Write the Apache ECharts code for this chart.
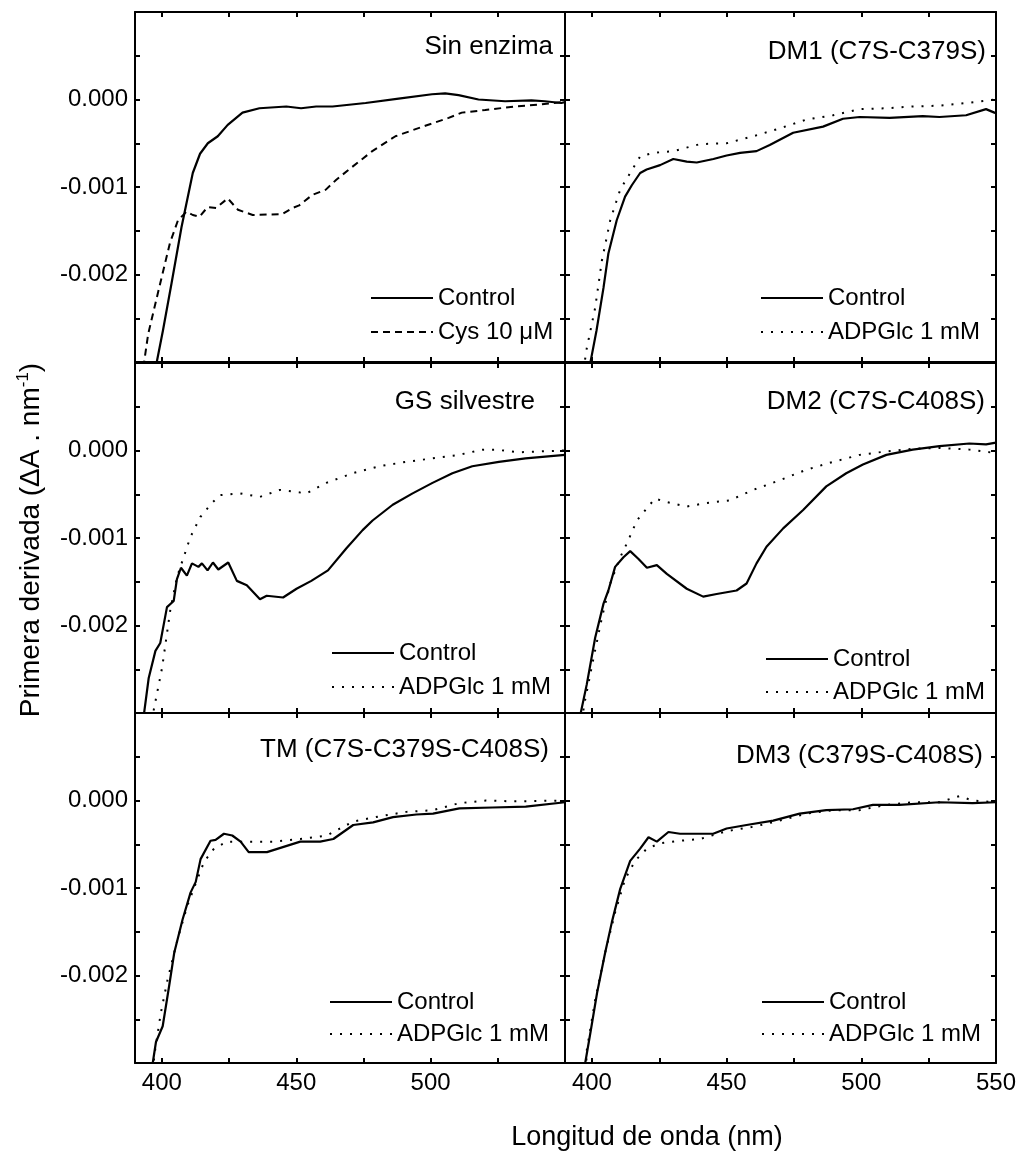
<!DOCTYPE html>
<html>
<head>
<meta charset="utf-8">
<script src="https://cdn.jsdelivr.net/npm/echarts@6/dist/echarts.min.js"></script>
<style>
html,body{margin:0;padding:0;background:#fff;}
#chart{width:1020px;height:1166px;}
</style>
</head>
<body>
<div id="chart"></div>
<script>
// ---- DATA: [wavelength (nm), first derivative ×10⁻³ (ΔA·nm⁻¹)] ----
const sinEnzimaControl = [[397.5,-3.2],[398.1,-3.0],[400.4,-2.64],[403.6,-2.10],[407.3,-1.46],[411.5,-0.84],[414.2,-0.62],[417.1,-0.50],[420.8,-0.42],[424.5,-0.29],[430,-0.15],[436.3,-0.10],[446.3,-0.08],[451.8,-0.10],[457.4,-0.08],[463.5,-0.08],[475.8,-0.04],[488.1,0.01],[500.5,0.06],[505.4,0.07],[510.4,0.05],[517.8,0.0],[527.7,-0.02],[537.5,-0.01],[542.5,-0.02],[548.6,-0.04],[550,-0.03]];
const sinEnzimaCys = [[392.8,-3.2],[393.4,-3.0],[394.9,-2.68],[399,-2.15],[403,-1.64],[406,-1.38],[409.2,-1.28],[411.5,-1.32],[414,-1.34],[417,-1.23],[420.2,-1.24],[424.5,-1.13],[428.3,-1.26],[433.8,-1.32],[444.8,-1.31],[448.6,-1.24],[451.1,-1.21],[456,-1.09],[461,-1.03],[464.8,-0.92],[469.6,-0.80],[478.3,-0.59],[486.9,-0.42],[498,-0.30],[506.7,-0.21],[511.6,-0.15],[520.3,-0.12],[531.4,-0.08],[540,-0.06],[548.6,-0.03],[550,-0.02]];

const dm1Control = [[399.0,-3.2],[399.4,-3.01],[401.7,-2.64],[404.3,-2.15],[406.1,-1.76],[409.2,-1.38],[412.3,-1.11],[414.8,-0.98],[417.9,-0.84],[420.3,-0.80],[425.3,-0.75],[430.2,-0.68],[435.2,-0.71],[438.9,-0.72],[445.1,-0.68],[450,-0.64],[455,-0.61],[461.1,-0.59],[466,-0.52],[474.7,-0.38],[485.8,-0.31],[493.2,-0.22],[499.4,-0.20],[510.5,-0.21],[522.8,-0.19],[529,-0.20],[538.9,-0.18],[546.3,-0.11],[549.4,-0.15],[550,-0.16]];
const dm1ADPGlc = [[396.9,-3.2],[397.3,-3.0],[398.1,-2.84],[401.2,-2.38],[403.7,-1.84],[406.8,-1.38],[410.5,-1.03],[414.2,-0.84],[417.9,-0.65],[422.8,-0.61],[430.2,-0.59],[440.1,-0.51],[450,-0.50],[459.9,-0.42],[469.7,-0.33],[479.6,-0.23],[489.5,-0.18],[499.4,-0.11],[509.3,-0.10],[519.1,-0.08],[529,-0.07],[538.9,-0.04],[550,0.0]];

const gsControl = [[393.0,-3.2],[393.3,-3.02],[395.1,-2.60],[397.6,-2.29],[399.4,-2.20],[401.9,-1.79],[404.4,-1.72],[405.6,-1.47],[407.1,-1.34],[409.3,-1.43],[411.2,-1.29],[413.6,-1.33],[414.9,-1.29],[417,-1.37],[419,-1.28],[421,-1.36],[424.7,-1.28],[427.9,-1.49],[431.6,-1.54],[436.5,-1.70],[439,-1.66],[445.1,-1.68],[450.1,-1.58],[455.6,-1.49],[461.8,-1.37],[468.6,-1.12],[474.7,-0.91],[478.4,-0.80],[485.9,-0.62],[493.3,-0.49],[500.7,-0.37],[508.1,-0.26],[515.5,-0.18],[525.4,-0.13],[535.3,-0.09],[550,-0.05]];
const gsADPGlc = [[396.7,-3.2],[397,-2.96],[400.1,-2.48],[403.1,-1.83],[405.6,-1.45],[408.1,-1.22],[410.6,-0.99],[414.3,-0.76],[418.6,-0.60],[421.7,-0.51],[429.1,-0.49],[436.5,-0.53],[443.9,-0.45],[453.8,-0.49],[461.2,-0.37],[471,-0.26],[480.9,-0.18],[490.8,-0.13],[500.7,-0.09],[510.6,-0.05],[519.2,0.01],[524.1,0.01],[532.8,-0.02],[550,0.0]];

const dm2Control = [[395.4,-3.2],[395.7,-3.02],[398.1,-2.67],[401.2,-2.14],[404.3,-1.75],[406.1,-1.60],[408.6,-1.33],[411.7,-1.22],[414.2,-1.15],[417.3,-1.24],[420.4,-1.34],[424.1,-1.31],[427.8,-1.41],[435.2,-1.58],[441.3,-1.67],[446.3,-1.64],[453.7,-1.60],[457.4,-1.52],[461.1,-1.29],[464.8,-1.10],[471,-0.89],[478.4,-0.68],[487,-0.41],[494.4,-0.26],[500.6,-0.16],[509.3,-0.05],[519.1,0.01],[529,0.05],[540.1,0.08],[546.3,0.07],[550,0.09]];
const dm2ADPGlc = [[396.5,-3.2],[396.9,-2.94],[400.6,-2.37],[403.7,-1.91],[406.8,-1.52],[410.5,-1.22],[413,-1.06],[416.7,-0.80],[420.4,-0.66],[423.4,-0.55],[427.8,-0.59],[435.2,-0.64],[442.6,-0.60],[451.2,-0.57],[459.9,-0.45],[469.7,-0.34],[479.6,-0.22],[489.5,-0.13],[499.4,-0.05],[509.3,-0.01],[519.1,0.02],[529,0.03],[540.1,0.01],[550,-0.03]];

const tmControl = [[396.4,-3.2],[396.6,-3.0],[397.8,-2.76],[400.3,-2.58],[402.7,-2.12],[404.6,-1.74],[407.7,-1.36],[410.7,-1.05],[412.6,-0.93],[414.4,-0.67],[418.1,-0.46],[420,-0.45],[423.1,-0.38],[426.2,-0.40],[429.3,-0.47],[432.3,-0.59],[439.1,-0.59],[445.3,-0.53],[451.5,-0.47],[458.9,-0.47],[463.8,-0.44],[471.2,-0.28],[478.6,-0.25],[486,-0.19],[494.7,-0.16],[500.9,-0.15],[510.7,-0.09],[523.1,-0.08],[535.4,-0.07],[550,-0.02]];
const tmADPGlc = [[396.8,-3.2],[397.1,-2.93],[399.6,-2.43],[402.1,-2.05],[405.8,-1.59],[409.5,-1.20],[413.2,-0.90],[415.7,-0.70],[419.4,-0.55],[424.3,-0.47],[431.7,-0.47],[441.6,-0.47],[451.5,-0.44],[461.4,-0.40],[471.2,-0.24],[481.1,-0.18],[491,-0.13],[500.9,-0.11],[510.7,-0.03],[520.6,0.0],[530.5,-0.01],[550,0.0]];

const dm3Control = [[397.3,-3.2],[397.5,-3.0],[399.4,-2.66],[401.9,-2.20],[404.9,-1.74],[407.4,-1.39],[410.5,-1.01],[414.2,-0.69],[417.9,-0.55],[421,-0.42],[424.1,-0.47],[428.4,-0.36],[432.7,-0.38],[438.9,-0.38],[445,-0.38],[450,-0.32],[457.4,-0.28],[467.3,-0.23],[477.1,-0.15],[487,-0.11],[496.9,-0.10],[504.3,-0.05],[514.2,-0.05],[529,-0.02],[541.3,-0.03],[550,-0.02]];
const dm3ADPGlc = [[397.6,-3.2],[398.1,-2.85],[401.2,-2.28],[404.9,-1.74],[408.6,-1.28],[412.3,-0.90],[416,-0.69],[420.4,-0.55],[425.3,-0.49],[432.7,-0.46],[440.1,-0.44],[450,-0.35],[459.9,-0.30],[469.7,-0.23],[479.6,-0.15],[489.5,-0.11],[499.4,-0.11],[509.3,-0.05],[519.1,-0.02],[529,-0.02],[536.4,0.05],[541.3,0.0],[550,-0.02]];

// tick labels
const yTickValues = [0, -1, -2];
const yTickLabels = ['0.000', '-0.001', '-0.002'];
const xTickLabelsLeft = [400, 450, 500];
const xTickLabelsRight = [400, 450, 500, 550];

// panel titles and legend names
const panelTitles = ['Sin enzima', 'DM1 (C7S-C379S)', 'GS silvestre', 'DM2 (C7S-C408S)', 'TM (C7S-C379S-C408S)', 'DM3 (C379S-C408S)'];
const controlName = 'Control';
const treatmentNames = ['Cys 10 μM', 'ADPGlc 1 mM', 'ADPGlc 1 mM', 'ADPGlc 1 mM', 'ADPGlc 1 mM', 'ADPGlc 1 mM'];
const controlSeries = [sinEnzimaControl, dm1Control, gsControl, dm2Control, tmControl, dm3Control];
const treatmentSeries = [sinEnzimaCys, dm1ADPGlc, gsADPGlc, dm2ADPGlc, tmADPGlc, dm3ADPGlc];

// ---- LAYOUT / STYLE ----
const FONT = 'Liberation Sans, Arial, Helvetica, sans-serif';
const gridBoxes = [
  {left:135, top:12, width:430, height:350},
  {left:565, top:12, width:431, height:350},
  {left:135, top:363, width:430, height:350},
  {left:565, top:363, width:431, height:350},
  {left:135, top:713, width:430, height:350},
  {left:565, top:713, width:431, height:350}
];
const titlePos = [[553,47],[986,52],[535,402],[985,402],[549,750],[983,756]];
const legendPos = [[370,298,34],[760,298,34],[331,653,34],[765,659,33],[329,1002,32],[761,1002,32]];
const treatmentDash = [[7,5],[2,8],[2,8],[2,8],[2,8],[2,8]];

const axisLineStyle = {color:'#000', width:2};
const tickStyle = {show:true, inside:true, length:5, lineStyle:{color:'#000', width:2}};

const grids = [], xAxes = [], yAxes = [], series = [], legends = [], graphics = [];

gridBoxes.forEach((g, i) => {
  grids.push(Object.assign({containLabel:false, outerBoundsMode:'none', show:false}, g));
  const isBottom = i >= 4;
  const isLeft = i % 2 === 0;
  const xLabels = isLeft ? xTickLabelsLeft : xTickLabelsRight;
  const xBase = {
    type:'value', gridIndex:i, min:390, max:550, minInterval:25, maxInterval:25,
    axisLine:{show:true, onZero:false, lineStyle:axisLineStyle},
    axisTick:tickStyle, splitLine:{show:false}, minorTick:{show:false}
  };
  xAxes.push(Object.assign({}, xBase, {
    position:'bottom',
    axisLabel:{show:isBottom, margin:8, color:'#000', fontSize:24, fontFamily:FONT,
      formatter: v => xLabels.indexOf(Math.round(v)) >= 0 ? String(Math.round(v)) : ''}
  }));
  xAxes.push(Object.assign({}, xBase, {position:'top', axisLabel:{show:false}}));
  const yBase = {
    type:'value', gridIndex:i, min:-3, max:1, interval:0.5,
    axisLine:{show:true, onZero:false, lineStyle:axisLineStyle},
    axisTick:tickStyle, splitLine:{show:false}
  };
  yAxes.push(Object.assign({}, yBase, {
    position:'left',
    axisLabel:{show:isLeft, margin:7, color:'#000', fontSize:24, fontFamily:FONT,
      formatter: v => { const k = yTickValues.indexOf(Math.round(v * 2) / 2); return k >= 0 ? yTickLabels[k] : ''; }}
  }));
  yAxes.push(Object.assign({}, yBase, {position:'right', axisLabel:{show:false}}));

  series.push({
    type:'line', name:controlName, xAxisIndex:2*i, yAxisIndex:2*i, data:controlSeries[i],
    symbol:'none', clip:true, animation:false, z:3,
    lineStyle:{color:'#000', width:2.2, type:'solid'}
  });
  series.push({
    type:'line', name:treatmentNames[i], xAxisIndex:2*i, yAxisIndex:2*i, data:treatmentSeries[i],
    symbol:'none', clip:true, animation:false, z:2,
    lineStyle:{color:'#000', width:2, type:treatmentDash[i]}
  });

  const lp = legendPos[i];
  legends.push({
    orient:'vertical', left:lp[0], top:lp[1] - 12, padding:0,
    itemWidth:62, itemHeight:14, itemGap:lp[2] - 24,
    selectedMode:false,
    data:[controlName, treatmentNames[i]],
    textStyle:{color:'#000', fontSize:24, fontFamily:FONT, lineHeight:24},
    lineStyle:{width:2},
    itemStyle:{opacity:0}
  });

  graphics.push({
    type:'text', x:titlePos[i][0], y:titlePos[i][1], z:10,
    style:{text:panelTitles[i], fill:'#000', font:'26px ' + FONT, textAlign:'right', textVerticalAlign:'middle'}
  });
});

graphics.push({
  type:'text', x:647, y:1138,
  style:{text:'Longitud de onda (nm)', fill:'#000', font:'27px ' + FONT, textAlign:'center', textVerticalAlign:'middle'}
});
graphics.push({
  type:'text', x:31, y:540, rotation:Math.PI/2,
  style:{
    text:'{a|Primera derivada (ΔA . nm}{s|-1}{a|)}',
    textAlign:'center', textVerticalAlign:'middle',
    rich:{
      a:{fontSize:28, fontFamily:FONT, fill:'#000', lineHeight:32},
      s:{fontSize:17, fontFamily:FONT, fill:'#000', verticalAlign:'top', lineHeight:32}
    }
  }
});

const chart = echarts.init(document.getElementById('chart'), null, {renderer:'canvas'});
chart.setOption({
  backgroundColor:'#fff',
  animation:false,
  grid:grids,
  xAxis:xAxes,
  yAxis:yAxes,
  series:series,
  legend:legends,
  graphic:graphics
});
</script>
</body>
</html>
